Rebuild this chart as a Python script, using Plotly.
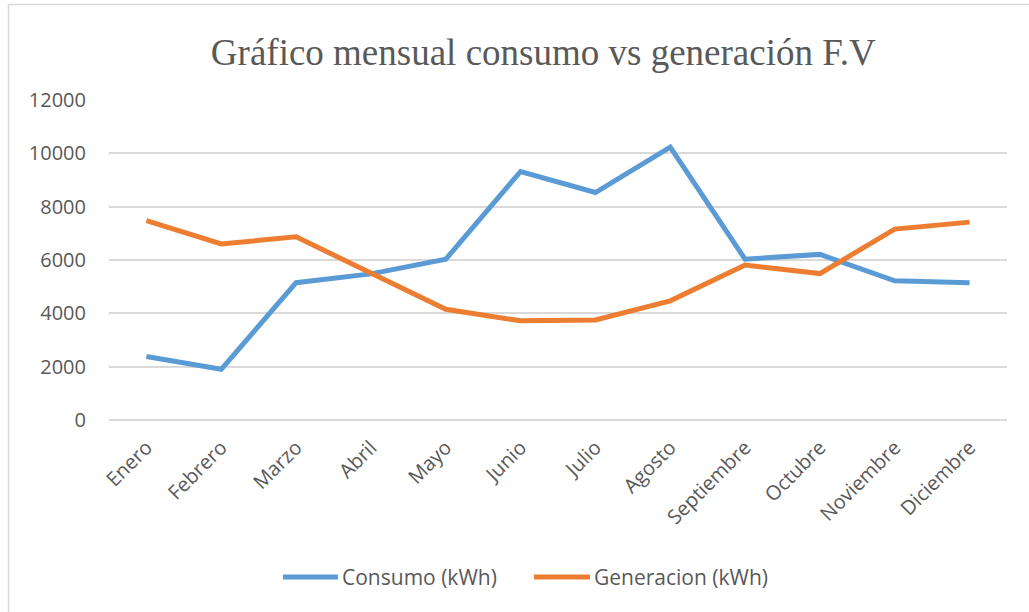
import plotly.graph_objects as go

# Monthly data (kWh)
meses = ["Enero", "Febrero", "Marzo", "Abril", "Mayo", "Junio", "Julio",
         "Agosto", "Septiembre", "Octubre", "Noviembre", "Diciembre"]
consumo = [2380, 1900, 5150, 5480, 6030, 9320, 8530, 10230, 6030, 6210, 5220, 5150]
generacion = [7480, 6600, 6870, 5520, 4150, 3720, 3750, 4470, 5810, 5490, 7160, 7420]
y_ticks = [0, 2000, 4000, 6000, 8000, 10000, 12000]

AZUL = "#5B9BD5"
NARANJA = "#ED7D31"
GRIS_TEXTO = "#595959"
GRIS_LINEA = "#D9D9D9"
FUENTE = "Open Sans, Segoe UI, sans-serif"

W, H = 1029, 612
L, R, T, B = 109, 22, 100, 192
PW, PH = W - L - R, H - T - B


def px_x(px):
    return (px - L) / PW


def px_y(py):
    return (H - B - py) / PH


fig = go.Figure()
fig.add_trace(go.Scatter(x=meses, y=consumo, mode="lines", name="Consumo (kWh)",
                         line=dict(color=AZUL, width=5), showlegend=False))
fig.add_trace(go.Scatter(x=meses, y=generacion, mode="lines", name="Generacion (kWh)",
                         line=dict(color=NARANJA, width=5), showlegend=False))

# chart frame (left and top edges)
shapes = [
    dict(type="line", xref="paper", yref="paper", x0=px_x(8), x1=px_x(1040),
         y0=px_y(4.5), y1=px_y(4.5), line=dict(color=GRIS_LINEA, width=1.5)),
    dict(type="line", xref="paper", yref="paper", x0=px_x(8.5), x1=px_x(8.5),
         y0=px_y(4), y1=px_y(640), line=dict(color=GRIS_LINEA, width=1.5)),
]

# legend entries
legend_items = [("Consumo (kWh)", AZUL, 283, 338), ("Generacion (kWh)", NARANJA, 534, 590)]
annotations = []
for texto, color, x0, x1 in legend_items:
    shapes.append(dict(type="line", xref="paper", yref="paper", x0=px_x(x0), x1=px_x(x1),
                       y0=px_y(577), y1=px_y(577), line=dict(color=color, width=5)))
    annotations.append(dict(text=texto, xref="paper", yref="paper", x=px_x(x1 + 2), y=px_y(577),
                            xanchor="left", yanchor="middle", showarrow=False,
                            font=dict(family=FUENTE, size=21, color=GRIS_TEXTO)))

fig.update_layout(
    width=W, height=H,
    margin=dict(l=L, r=R, t=T, b=B),
    paper_bgcolor="white", plot_bgcolor="white",
    title=dict(text="Gráfico mensual consumo vs generación F.V",
               font=dict(family="Times New Roman, Liberation Serif, serif", size=37, color=GRIS_TEXTO),
               x=0.528, xanchor="center", y=1 - 52 / H, yanchor="middle", yref="container"),
    shapes=shapes,
    annotations=annotations,
    showlegend=False,
)
fig.update_xaxes(range=[-0.5, 11.5], tickangle=-45, showgrid=False, showline=False,
                 ticks="", tickfont=dict(family=FUENTE, size=20, color=GRIS_TEXTO),
                 ticklabelstandoff=11)
fig.update_yaxes(range=[0, 12000], tickvals=y_ticks, ticktext=[str(v) for v in y_ticks],
                 showgrid=True, gridcolor=GRIS_LINEA,
                 gridwidth=1.5, zeroline=True, zerolinecolor=GRIS_LINEA, zerolinewidth=1.5,
                 showline=False, ticks="", ticklabelstandoff=22,
                 tickfont=dict(family=FUENTE, size=20, color=GRIS_TEXTO))

fig.write_html("out.html")
